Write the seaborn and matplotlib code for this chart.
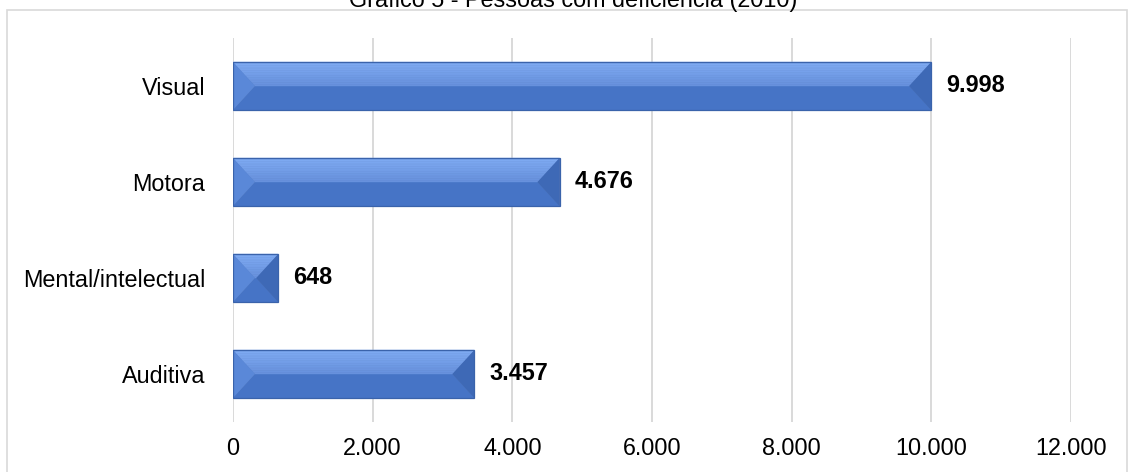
import numpy as np
import pandas as pd
import matplotlib
matplotlib.use("Agg")
import matplotlib.pyplot as plt
from matplotlib.patches import Polygon, Rectangle
from matplotlib.ticker import FuncFormatter, MultipleLocator
from matplotlib.colors import to_rgb
import seaborn as sns

# Dados: pessoas com deficiência por tipo
categorias = ["Visual", "Motora", "Mental/intelectual", "Auditiva"]
valores = [9998, 4676, 648, 3457]
titulo = "Gráfico 5 - Pessoas com deficiência (2010)"

sns.set_theme(style="white")
plt.rcParams["font.family"] = ["Liberation Sans", "DejaVu Sans"]

W, H, DPI = 1130, 472, 100
fig = plt.figure(figsize=(W / DPI, H / DPI), dpi=DPI)
ax = fig.add_axes([233 / W, 1 - 422 / H, (1071 - 233) / W, (422 - 38) / H])

df = pd.DataFrame({"categoria": categorias, "valor": valores})
sns.barplot(data=df, x="valor", y="categoria", orient="h", order=categorias,
            color="#4472C4", width=0.5, ax=ax, zorder=2, edgecolor="none")

XMAX = 12000
ax.set_xlim(0, XMAX)
ax.set_ylim(3.5, -0.5)
ax.xaxis.set_major_locator(MultipleLocator(2000))
ax.xaxis.set_major_formatter(FuncFormatter(lambda v, p: f"{int(v):,}".replace(",", ".")))
ax.grid(axis="x", color="#d9d9d9", linewidth=1.4, zorder=0)
ax.grid(axis="y", visible=False)
for s in ax.spines.values():
    s.set_visible(False)
ax.tick_params(axis="x", length=0, pad=11, labelsize=16.8, colors="black")
ax.tick_params(axis="y", length=0, pad=20, labelsize=16.8, colors="black")
ax.set_xlabel("")
ax.set_ylabel("")

# Bevelled faces on each bar, derived from the bar patches
px_to_data = XMAX / (1071 - 233)
bevel_px = 22
top_light = np.array(to_rgb("#80acf4"))
top_dark = np.array(to_rgb("#6690dc"))
c_bot = "#4674c6"
c_left = "#5a88d8"
c_right = "#3e69b6"
n_slices = 14
for patch in ax.patches:
    x0 = patch.get_x()
    w = patch.get_width()
    y0 = patch.get_y()
    h = patch.get_height()
    x1 = x0 + w
    yt, yb = y0, y0 + h  # inverted axis: y0 is the top
    ym = y0 + h / 2
    d = min(bevel_px * px_to_data, w / 2)
    # bottom face and end facets
    ax.add_patch(Polygon([(x0, yb), (x1, yb), (x1 - d, ym), (x0 + d, ym)], closed=True,
                         facecolor=c_bot, edgecolor="none", zorder=3))
    # top face with a vertical gradient
    for k in range(n_slices):
        t0, t1 = k / n_slices, (k + 1) / n_slices
        col = top_light + (top_dark - top_light) * ((t0 + t1) / 2)
        ya, yb2 = yt + (ym - yt) * t0, yt + (ym - yt) * t1
        ax.add_patch(Polygon([(x0 + d * t0, ya), (x1 - d * t0, ya),
                              (x1 - d * t1, yb2), (x0 + d * t1, yb2)], closed=True,
                             facecolor=col, edgecolor=col, linewidth=0.3, zorder=3))
    ax.add_patch(Polygon([(x0, yt), (x0, yb), (x0 + d, ym)], closed=True,
                         facecolor=c_left, edgecolor="none", zorder=3.5))
    ax.add_patch(Polygon([(x1, yt), (x1, yb), (x1 - d, ym)], closed=True,
                         facecolor=c_right, edgecolor="none", zorder=3.5))
    ax.add_patch(Rectangle((x0, y0), w, h, facecolor="none", edgecolor="#3a63ab",
                           linewidth=0.9, zorder=4))

# Value labels
for i, v in enumerate(valores):
    ax.text(v + 15 * px_to_data, i, f"{v:,}".replace(",", "."), va="center", ha="left",
            fontsize=16.8, fontweight="bold", color="black", zorder=5)

# Outer frame and title
fig.add_artist(Rectangle((7 / W, -0.05), (1127 - 7) / W, 1.05 - 10 / H, transform=fig.transFigure,
                         facecolor="none", edgecolor="#d9d9d9", linewidth=1.2))
fig.text(573 / W, 1 - 7 / H, titulo, ha="center", va="baseline", fontsize=16.8, color="black")

fig.savefig("out.png", dpi=DPI)
